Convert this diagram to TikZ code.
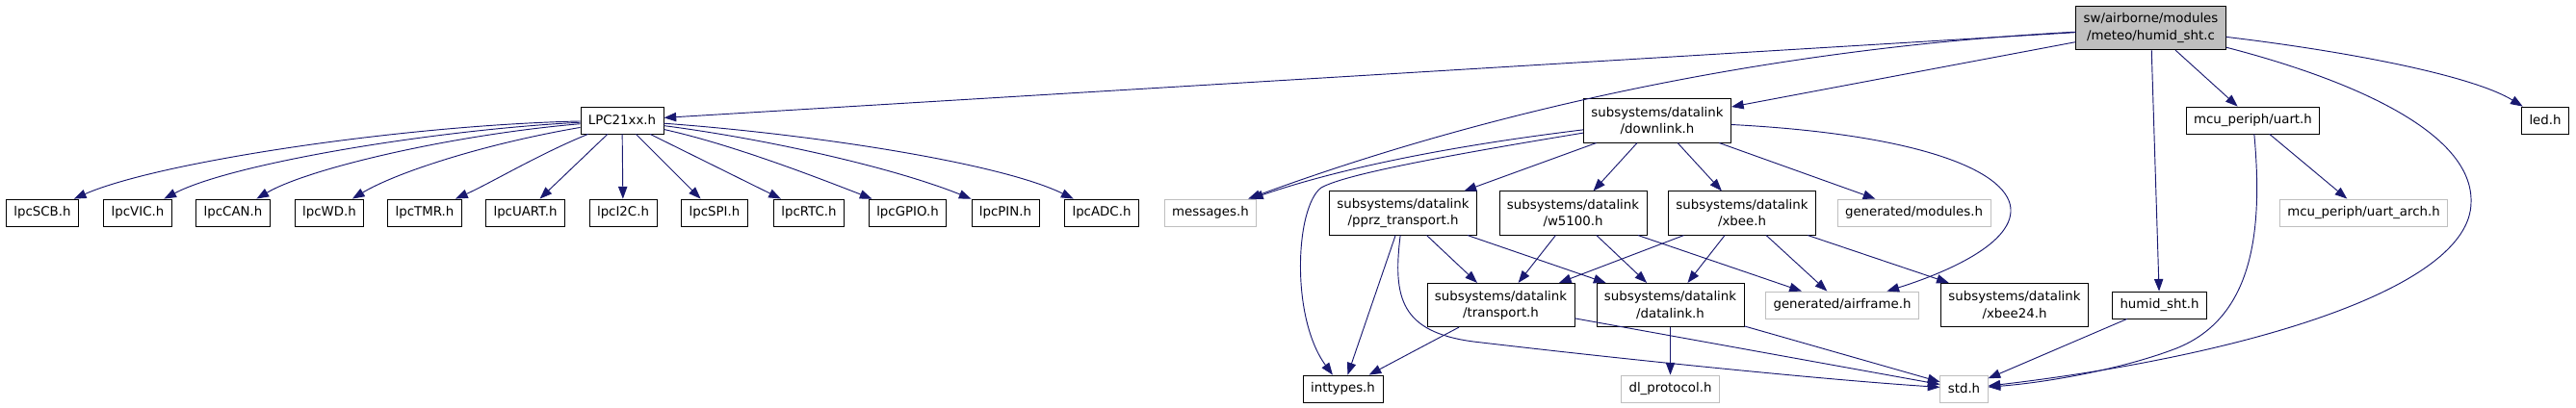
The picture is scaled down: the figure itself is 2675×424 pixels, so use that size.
\documentclass[tikz,border=0pt]{standalone}
\usepackage{fontspec}
\setmainfont{DejaVu Sans}
\usetikzlibrary{arrows.meta}
\definecolor{incblue}{HTML}{191970}
\definecolor{grey75}{HTML}{BFBFBF}
\tikzset{
  hdr/.style={draw, fill=white, line width=0.6pt, inner xsep=6pt, inner ysep=0pt,
    minimum height=21pt, align=center, font=\fontsize{10}{13}\selectfont},
  two line/.style={minimum height=34pt},
  undoc hdr/.style={hdr, draw=grey75},
  root file/.style={hdr, two line, fill=grey75},
  incl/.style={draw=incblue, line width=0.7pt, -{Triangle[length=9.5pt, width=7pt]}},
}

\begin{document}
\begin{tikzpicture}[x=0.75pt, y=-0.75pt]
  \useasboundingbox (0,0) rectangle (2675,424);
  % rank 0 and 1
  \node[root file] (root) at (2233.5,29) {sw/airborne/modules\\/meteo/humid\_sht.c};
  \node[hdr] (lpc) at (646,125) {LPC21xx.h};
  \node[hdr, two line] (downlink) at (1721,125.5) {subsystems/datalink\\/downlink.h};
  \node[hdr] (mcuuart) at (2339.5,125) {mcu\_periph/uart.h};
  \node[hdr] (led) at (2643,125) {led.h};
  % rank 2
  \foreach \n/\x/\txt in {scb/44/lpcSCB.h, vic/143/lpcVIC.h, can/242/lpcCAN.h,
      wd/342/lpcWD.h, tmr/441/lpcTMR.h, lpcuart/545.5/lpcUART.h, iic/647/lpcI2C.h,
      spi/742/lpcSPI.h, rtc/840/lpcRTC.h, gpio/942.5/lpcGPIO.h, pin/1044/lpcPIN.h,
      adc/1144/lpcADC.h}
    {\node[hdr] (\n) at (\x,221) {\txt};}
  \node[undoc hdr] (msgs) at (1257,221) {messages.h};
  \node[hdr, two line] (pprz) at (1457,221.5) {subsystems/datalink\\/pprz\_transport.h};
  \node[hdr, two line] (w5100) at (1633.5,221.5) {subsystems/datalink\\/w5100.h};
  \node[hdr, two line] (xbee) at (1809,221.5) {subsystems/datalink\\/xbee.h};
  \node[undoc hdr] (modules) at (1987.5,221) {generated/modules.h};
  \node[undoc hdr] (uartarch) at (2454.5,221) {mcu\_periph/uart\_arch.h};
  % rank 3
  \node[hdr, two line] (transport) at (1558.5,317) {subsystems/datalink\\/transport.h};
  \node[hdr, two line] (datalink) at (1734.5,317) {subsystems/datalink\\/datalink.h};
  \node[undoc hdr] (airframe) at (1913,317) {generated/airframe.h};
  \node[hdr, two line] (xbee24) at (2092,317) {subsystems/datalink\\/xbee24.h};
  \node[hdr] (humid) at (2242.5,317) {humid\_sht.h};
  % rank 4
  \node[hdr] (inttypes) at (1394.5,404) {inttypes.h};
  \node[undoc hdr] (dlproto) at (1734.5,404) {dl\_protocol.h};
  \node[undoc hdr] (std) at (2039.5,404) {std.h};

  % straight includes
  \foreach \a/\b in {root/lpc, root/downlink, root/humid, root/mcuuart,
      lpc/lpcuart, lpc/iic, lpc/spi, lpc/rtc,
      downlink/pprz, downlink/w5100, downlink/xbee, downlink/modules,
      pprz/transport, pprz/datalink, pprz/inttypes,
      w5100/transport, w5100/datalink, w5100/airframe,
      xbee/transport, xbee/datalink, xbee/airframe, xbee/xbee24,
      transport/inttypes, transport/std, datalink/dlproto, datalink/std,
      humid/std, mcuuart/uartarch}
    \draw[incl] (\a) -- (\b);

  % curved includes
  \draw[incl] (lpc) .. controls (420,130) and (165,168) .. (scb);
  \draw[incl] (lpc) .. controls (450,135) and (240,170) .. (vic);
  \draw[incl] (lpc) .. controls (470,140) and (320,175) .. (can);
  \draw[incl] (lpc) .. controls (500,150) and (410,180) .. (wd);
  \draw[incl] (lpc) .. controls (560,160) and (510,190) .. (tmr);
  \draw[incl] (lpc) .. controls (760,150) and (850,185) .. (gpio);
  \draw[incl] (lpc) .. controls (800,145) and (930,175) .. (pin);
  \draw[incl] (lpc) .. controls (850,140) and (1040,170) .. (adc);
  \draw[incl] (root) .. controls (1750,55) and (1450,150) .. (msgs);
  \draw[incl] (root) .. controls (2450,55) and (2570,80) .. (led);
  \draw[incl] (root) .. controls (2450,85) and (2568,140) .. (2566,210)
    .. controls (2566,300) and (2330,370) .. (std);
  \draw[incl] (downlink) .. controls (1520,150) and (1400,172) .. (msgs);
  \draw[incl] (downlink) .. controls (1450,170) and (1390,185) .. (1372,195)
    .. controls (1345,215) and (1340,330) .. (inttypes);
  \draw[incl] (downlink) .. controls (2000,140) and (2090,180) .. (2088,220)
    .. controls (2086,260) and (2000,290) .. (airframe);
  \draw[incl] (pprz) .. controls (1446,310) and (1455,345) .. (1530,355)
    .. controls (1700,375) and (1900,395) .. (std);
  \draw[incl] (mcuuart) .. controls (2350,240) and (2340,330) .. (2260,362)
    .. controls (2200,385) and (2120,398) .. (std);
\end{tikzpicture}
\end{document}
